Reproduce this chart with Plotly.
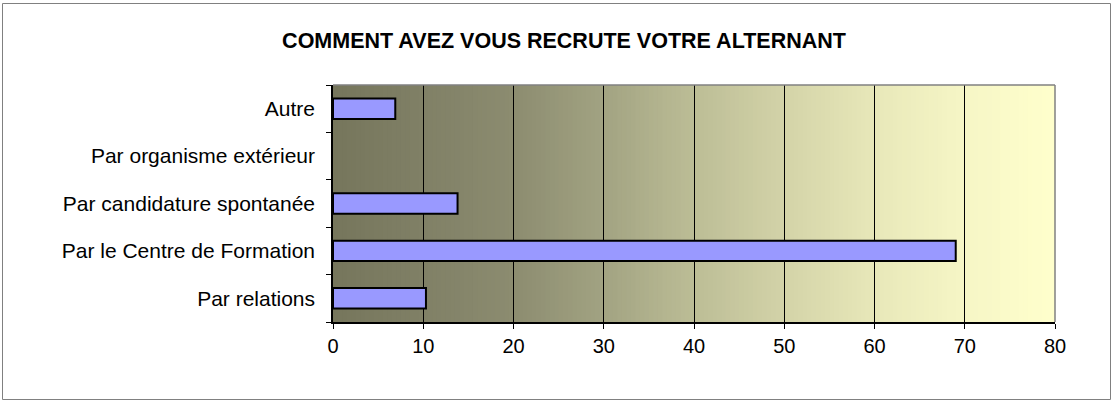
import numpy as np
import plotly.graph_objects as go

# Data (bottom to top, as drawn)
categories = [
    "Par relations",
    "Par le Centre de Formation",
    "Par candidature spontanée",
    "Par organisme extérieur",
    "Autre",
]
values = [10.3, 69.0, 13.8, 0.0, 6.9]
x_ticks = [0, 10, 20, 30, 40, 50, 60, 70, 80]
title = "COMMENT AVEZ VOUS RECRUTE VOTRE ALTERNANT"

W, H = 1113, 401
ML, MR, MT, MB = 333, 58, 85, 79
font = "Arial, Liberation Sans, sans-serif"

# Background gradient stops (x value, rgb)
grad_x = [0, 10, 20, 30, 40, 50, 60, 70, 80]
grad_rgb = [
    (118, 118, 92), (128, 128, 102), (140, 140, 112), (162, 163, 130),
    (188, 189, 150), (211, 211, 168), (232, 232, 185), (246, 246, 198),
    (255, 255, 204),
]

fig = go.Figure(
    go.Bar(
        x=values,
        y=categories,
        orientation="h",
        width=0.43,
        marker=dict(
            color="#9999ff",
            line=dict(color="black", width=[2 if v > 0 else 0 for v in values]),
        ),
        hoverinfo="x+y",
    )
)

shapes = []
edges = np.linspace(0, 80, 161)
rgb = np.array(grad_rgb, dtype=float)
# each strip runs to the right edge, so later ones overlap earlier: no seams
for a in edges[:-1]:
    m = a + 0.25
    c = [int(round(np.interp(m, grad_x, rgb[:, k]))) for k in range(3)]
    shapes.append(dict(
        type="rect", xref="x", yref="y domain", x0=a, x1=80, y0=0, y1=1,
        fillcolor=f"rgb({c[0]},{c[1]},{c[2]})", line=dict(width=0), layer="below",
    ))

# plot area border, top and right in gray
shapes.append(dict(type="line", xref="x domain", yref="y domain", x0=0, x1=1, y0=1, y1=1,
                   line=dict(color="#808080", width=1.5)))
shapes.append(dict(type="line", xref="x domain", yref="y domain", x0=1, x1=1, y0=0, y1=1,
                   line=dict(color="#808080", width=1.5)))

# outer chart frame
pw, ph = W - ML - MR, H - MT - MB
def px(xp):
    return (xp - ML) / pw
def py(yp):
    return (H - MB - yp) / ph
shapes.append(dict(type="rect", xref="paper", yref="paper",
                   x0=px(2.5), x1=px(1110.5), y0=py(3.5), y1=py(399.5),
                   line=dict(color="#808080", width=1), fillcolor="rgba(0,0,0,0)"))

fig.update_layout(
    width=W,
    height=H,
    margin=dict(l=ML, r=MR, t=MT, b=MB, pad=0),
    paper_bgcolor="white",
    plot_bgcolor="white",
    font=dict(family=font, size=21, color="black"),
    title=dict(
        text=f"<b>{title}</b>",
        x=564 / W, xref="container", xanchor="center",
        y=1 - 40 / H, yref="container", yanchor="middle",
        font=dict(family=font, size=21.5, color="black"),
    ),
    showlegend=False,
    shapes=shapes,
    xaxis=dict(
        range=[0, 80],
        tickvals=x_ticks,
        ticks="outside",
        ticklen=5,
        tickcolor="black",
        tickfont=dict(size=20),
        showline=True,
        linecolor="black",
        linewidth=1.5,
        showgrid=True,
        gridcolor="black",
        gridwidth=1,
        zeroline=False,
        ticklabelstandoff=0,
        fixedrange=True,
    ),
    yaxis=dict(
        categoryorder="array",
        categoryarray=categories,
        ticks="outside",
        tickson="boundaries",
        ticklen=5,
        tickcolor="black",
        showline=True,
        linecolor="black",
        linewidth=1.5,
        showgrid=False,
        ticklabelstandoff=12,
        fixedrange=True,
    ),
)

fig.write_html(
    "out.html",
    config={"displayModeBar": False},
    post_script="document.body.style.margin='0';document.body.style.overflow='hidden';",
)
